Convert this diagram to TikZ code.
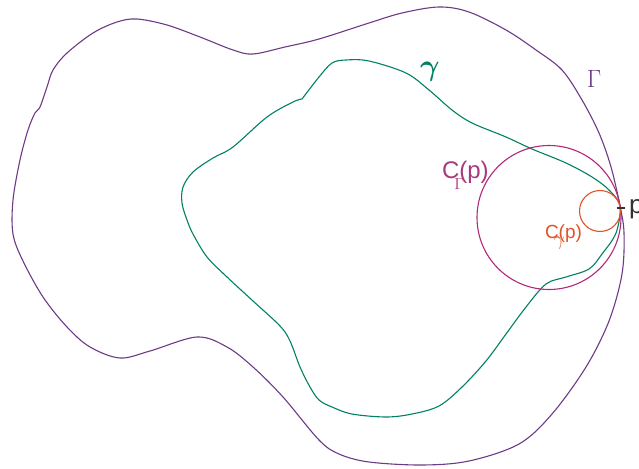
\RequirePackage{fix-cm}
\documentclass[tikz,border=0pt]{standalone}
\usepackage[no-math]{fontspec}
\setmainfont{Liberation Sans}
\definecolor{cpurple}{RGB}{108,58,134}
\definecolor{cgreen}{RGB}{0,128,100}
\definecolor{cmag}{RGB}{178,40,120}
\definecolor{cmaglbl}{RGB}{168,58,124}
\definecolor{corange}{RGB}{224,82,40}
\definecolor{cdark}{RGB}{50,50,50}
\tikzset{
  curveline/.style={line width=1.1pt, line join=round},
  lbl/.style={inner sep=0pt, outer sep=0pt},
}
\begin{document}
\begin{tikzpicture}[x=1pt,y=-1pt]
\useasboundingbox (0,0) rectangle (639,468);
% outer curve Gamma
\draw[curveline, cpurple] plot[smooth cycle, tension=0.55] coordinates {
(137,19) (167,25) (200,37) (233,50) (253,54) (285,47) (319,39) (369,23) (402,13) (439,7) (469,12) (506,30) (536,50) (562,70) (582,100) (599,133) (611,167) (620,206) (624,233) (622,274) (609,321) (586,367) (552,414) (519,444) (469,461) (422,465) (369,462) (339,454) (319,440) (283,397) (253,367) (227,347) (197,337) (150,351) (120,358) (90,347) (67,327) (43,297) (23,261) (13,234) (13,200) (20,160) (28,130) (35,113) (40,107) (47,87) (53,70) (67,53) (93,33) (117,22)};
% inner curve gamma
\draw[curveline, cgreen] plot[smooth, tension=0.55] coordinates {
(302,99) (319,77) (332,63) (346,60) (369,61) (406,73) (429,90) (452,110) (472,123) (506,137) (532,149) (566,163) (592,177) (609,190) (620,206) (616,233) (602,254) (589,269) (566,277) (546,284) (526,307) (506,334) (486,361) (462,387) (439,406) (412,414) (386,417) (352,414) (332,407) (319,400) (310,387) (300,367) (290,341) (280,326) (253,301) (227,277) (207,257) (193,234) (187,220) (182,203) (183,187) (193,172) (213,158) (233,147) (267,117) (293,102) (302,99)};
% osculating circles
\draw[line width=1.1pt, cmag] (549,217.5) circle[radius=72];
\draw[line width=1.1pt, corange] (600,211) circle[radius=20.5];
% point p
\coordinate (pt) at (620.5,208);
\coordinate (tickL) at (616.5,208);
\coordinate (tickR) at (624.5,208);
\draw[line width=1.2pt, cdark] (tickL) -- (tickR);
\node[lbl, anchor=base west, text=cdark, font=\fontsize{26}{26}\selectfont] (plabel) at (629,213.5) {p};
% labels
\node[lbl, anchor=base, text=cgreen, font=\fontsize{30}{30}\selectfont\boldmath] (gammalabel) at (430,76) {$\gamma$};
\node[lbl, anchor=base, text=cpurple, font=\fontsize{25}{25}\selectfont] (Gammalabel) at (594,88) {$\Gamma$};
\node[lbl, anchor=base west, text=cmaglbl, font=\fontsize{24}{24}\selectfont] (CGlabel) at (442,178) {C\rlap{\kern-5pt\raisebox{-11pt}{\fontsize{16}{16}\selectfont$\Gamma$}}(p)};
\node[lbl, anchor=base west, text=corange, font=\fontsize{19}{19}\selectfont] (Cglabel) at (545,238) {C\rlap{\kern-5pt\raisebox{-7pt}{\fontsize{20}{20}\selectfont$\gamma$}}(p)};
\end{tikzpicture}
\end{document}
